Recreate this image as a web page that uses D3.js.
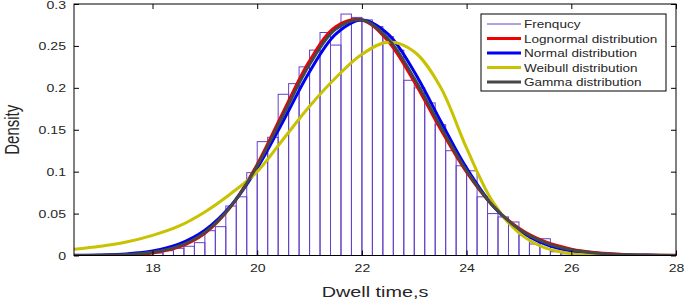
<!DOCTYPE html>
<html>
<head>
<meta charset="utf-8">
<script src="https://cdn.jsdelivr.net/npm/d3@7"></script>
<style>
  body { margin: 0; background: #fff; }
  svg { display: block; font-family: "Liberation Sans", Arial, sans-serif; }
</style>
</head>
<body>
<svg id="chart" width="685" height="302"></svg>
<script>
// histogram: left edge of each 0.2 s bin and its density
const binLeft = [18.0, 18.2, 18.4, 18.6, 18.8, 19.0, 19.2, 19.4, 19.6, 19.8,
                 20.0, 20.2, 20.4, 20.6, 20.8, 21.0, 21.2, 21.4, 21.6, 21.8,
                 22.0, 22.2, 22.4, 22.6, 22.8, 23.0, 23.2, 23.4, 23.6, 23.8,
                 24.0, 24.2, 24.4, 24.6, 24.8, 25.0, 25.2, 25.4, 25.6, 25.8];
const binDensity = [0.003, 0.0057, 0.0086, 0.011, 0.0153, 0.0296, 0.0344, 0.059, 0.070, 0.0988,
                    0.1358, 0.141, 0.1923, 0.205, 0.225, 0.245, 0.266, 0.251, 0.288, 0.284,
                    0.281, 0.273, 0.261, 0.245, 0.209, 0.200, 0.182, 0.156, 0.125, 0.107,
                    0.101, 0.070, 0.050, 0.046, 0.040, 0.024, 0.0137, 0.020, 0.0045, 0.002];
const binWidth = 0.2;

// fitted curves, every 0.5 s
const curveX = [16.5, 17, 17.5, 18, 18.5, 19, 19.5, 20, 20.5, 21, 21.5, 22,
                22.5, 23, 23.5, 24, 24.5, 25, 25.5, 26, 26.5, 27, 27.5, 28];
const lognormalY = [0.00002, 0.00014, 0.0007, 0.0030, 0.0099, 0.0265, 0.0586, 0.1088, 0.1716, 0.2323, 0.2729, 0.2810,
                    0.2557, 0.2073, 0.1509, 0.0993, 0.0594, 0.0325, 0.0164, 0.0076, 0.0033, 0.0013, 0.0005, 0.0002];
const normalY = [0.0002, 0.0006, 0.0019, 0.0053, 0.0135, 0.0301, 0.0596, 0.1042, 0.1608, 0.2192, 0.2640, 0.2809,
                 0.2640, 0.2192, 0.1608, 0.1042, 0.0596, 0.0301, 0.0135, 0.0053, 0.0019, 0.0006, 0.0002, 0.00004];
const weibullY = [0.0074, 0.0110, 0.0160, 0.0240, 0.0350, 0.0520, 0.0740, 0.1000, 0.1390, 0.1780, 0.2120, 0.2400,
                  0.2545, 0.2430, 0.2010, 0.1280, 0.0640, 0.0270, 0.0090, 0.0022, 0.0004, 0, 0, 0];
const gammaY = [0.0001, 0.0003, 0.0011, 0.0038, 0.0111, 0.0276, 0.0589, 0.1072, 0.1679, 0.2278, 0.2700, 0.2810,
                0.2585, 0.2113, 0.1543, 0.1010, 0.0595, 0.0317, 0.0154, 0.0069, 0.0028, 0.0011, 0.0004, 0.0001];

const xTicks = [18, 20, 22, 24, 26, 28];
const yTicks = [0, 0.05, 0.1, 0.15, 0.2, 0.25, 0.3];
const yTickLabels = ["0", "0.05", "0.1", "0.15", "0.2", "0.25", "0.3"];
const legendNames = ["Frenqucy", "Lognormal distribution", "Normal distribution",
                     "Weibull distribution", "Gamma distribution"];

// layout
const plot = { left: 74, right: 676, top: 4, bottom: 255.5 };
const textColor = "#262626";
const colors = {
    hist: "#6440c8",
    lognormal: "#f00000",
    normal: "#0000f5",
    weibull: "#c8c200",
    gamma: "#474747"
};

const svg = d3.select("#chart");

const x = d3.scaleLinear().domain([16.5, 28]).range([plot.left, plot.right]);
const y = d3.scaleLinear().domain([0, 0.3]).range([plot.bottom, plot.top]);

svg.append("clipPath").attr("id", "clip")
    .append("rect")
    .attr("x", plot.left).attr("y", plot.top - 2)
    .attr("width", plot.right - plot.left).attr("height", plot.bottom - plot.top + 2);

// histogram bars (outline only)
const bins = binLeft.map((b, i) => ({ x0: b, x1: b + binWidth, d: binDensity[i] }));
svg.append("g").selectAll("rect")
    .data(bins)
    .enter().append("rect")
    .attr("x", d => x(d.x0))
    .attr("y", d => y(d.d))
    .attr("width", d => x(d.x1) - x(d.x0))
    .attr("height", d => y(0) - y(d.d))
    .attr("fill", "none")
    .attr("stroke", colors.hist)
    .attr("stroke-width", 1);

// fitted curves, in plot order
const line = d3.line()
    .x(d => x(d[0]))
    .y(d => y(d[1]))
    .curve(d3.curveCatmullRom.alpha(0.5));

const curves = [
    { vals: lognormalY, color: colors.lognormal },
    { vals: normalY, color: colors.normal },
    { vals: weibullY, color: colors.weibull },
    { vals: gammaY, color: colors.gamma }
];
const gCurves = svg.append("g").attr("clip-path", "url(#clip)");
curves.forEach(c => {
    gCurves.append("path")
        .datum(curveX.map((v, i) => [v, c.vals[i]]))
        .attr("d", line)
        .attr("fill", "none")
        .attr("stroke", c.color)
        .attr("stroke-width", 3)
        .attr("stroke-linejoin", "round");
});

// axes box
svg.append("rect")
    .attr("x", plot.left).attr("y", plot.top)
    .attr("width", plot.right - plot.left).attr("height", plot.bottom - plot.top)
    .attr("fill", "none").attr("stroke", "#000").attr("stroke-width", 1);

// the picture is a bit wider than tall, so text gets a horizontal stretch
const sxTick = 1.28;

const xAxis = svg.append("g")
    .attr("transform", `translate(0,${plot.bottom})`)
    .call(d3.axisBottom(x).tickValues(xTicks).tickSizeInner(-5).tickSizeOuter(0).tickPadding(9));
xAxis.select(".domain").remove();
xAxis.selectAll("line").attr("stroke", "#000");
xAxis.selectAll("text")
    .attr("fill", textColor)
    .style("font-size", "11px")
    .attr("transform", `scale(${sxTick},1)`);

svg.append("g")
    .attr("transform", `translate(0,${plot.top})`)
    .call(d3.axisTop(x).tickValues(xTicks).tickSizeInner(-5).tickSizeOuter(0).tickFormat(""))
    .call(g => g.select(".domain").remove())
    .selectAll("line").attr("stroke", "#000");

const yAxis = svg.append("g")
    .attr("transform", `translate(${plot.left},0)`)
    .call(d3.axisLeft(y).tickValues(yTicks).tickSizeInner(-5).tickSizeOuter(0)
        .tickPadding(8 / sxTick).tickFormat((d, i) => yTickLabels[i]));
yAxis.select(".domain").remove();
yAxis.selectAll("line").attr("stroke", "#000");
yAxis.selectAll("text")
    .attr("fill", textColor)
    .style("font-size", "11px")
    .attr("transform", `scale(${sxTick},1)`);
// keep the top label inside the window
yAxis.selectAll("text").filter(d => d === 0.3).attr("dy", "0.42em");

svg.append("g")
    .attr("transform", `translate(${plot.right},0)`)
    .call(d3.axisRight(y).tickValues(yTicks).tickSizeInner(-5).tickSizeOuter(0).tickFormat(""))
    .call(g => g.select(".domain").remove())
    .selectAll("line").attr("stroke", "#000");

// axis titles
svg.append("text")
    .attr("transform", `translate(${(plot.left + plot.right) / 2},297) scale(1.32,1)`)
    .attr("text-anchor", "middle")
    .attr("fill", textColor)
    .style("font-size", "15px")
    .text("Dwell time,s");

svg.append("text")
    .attr("transform", `translate(19,${(plot.top + plot.bottom) / 2}) rotate(-90) scale(1.0,1.3)`)
    .attr("text-anchor", "middle")
    .attr("fill", textColor)
    .style("font-size", "15px")
    .text("Density");

// legend
const legend = svg.append("g");
legend.append("rect")
    .attr("x", 481).attr("y", 14).attr("width", 185).attr("height", 77)
    .attr("fill", "#fff").attr("stroke", "#000").attr("stroke-width", 1);
const legendColors = [colors.hist, colors.lognormal, colors.normal, colors.weibull, colors.gamma];
legendNames.forEach((name, i) => {
    const ly = 24 + i * 14.5;
    legend.append("line")
        .attr("x1", 487).attr("x2", 521)
        .attr("y1", ly).attr("y2", ly)
        .attr("stroke", legendColors[i])
        .attr("stroke-width", i === 0 ? 1 : 3);
    legend.append("text")
        .attr("transform", `translate(524,${ly + 4}) scale(1.18,1)`)
        .attr("fill", textColor)
        .style("font-size", "11.5px")
        .text(name);
});
</script>
</body>
</html>
